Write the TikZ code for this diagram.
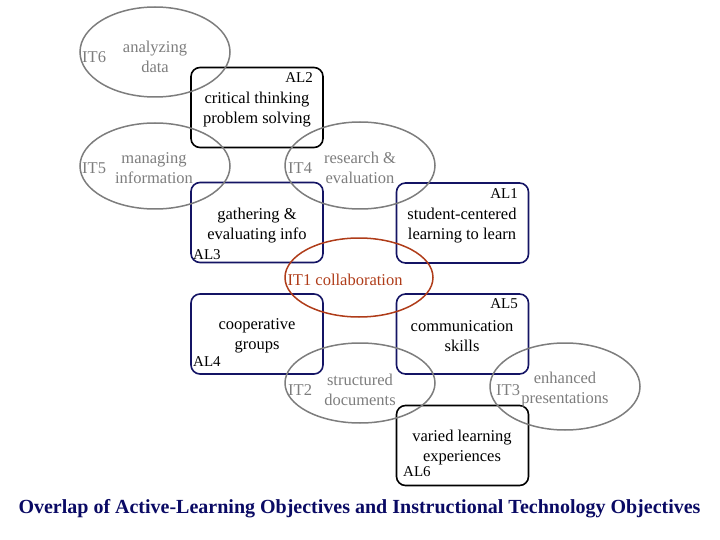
\documentclass[tikz,border=0pt]{standalone}
\usepackage{fontspec}
\setmainfont{Liberation Serif}
\definecolor{navyb}{RGB}{20,20,100}
\definecolor{ellg}{RGB}{125,125,125}
\definecolor{txtg}{RGB}{125,125,125}
\definecolor{itred}{RGB}{175,60,25}
\definecolor{capblue}{RGB}{10,10,100}
\begin{document}
\begin{tikzpicture}[x=1pt,y=-1pt,
  box/.style={draw, line width=1.6pt, rounded corners=9pt, minimum width=132pt, minimum height=80pt, inner sep=0pt},
  bt/.style={font=\fontsize{16.5}{20}\selectfont, align=center, inner sep=0pt},
  et/.style={font=\fontsize{16.5}{20}\selectfont, align=center, inner sep=0pt, text=txtg},
  lab/.style={font=\fontsize{15}{16}\selectfont, inner sep=0pt}]
\useasboundingbox (0,0) rectangle (720,540);
% boxes
\node[box, draw=black] (al2) at (257,107.5) {};
\node[box, draw=navyb] (al3) at (257,222.5) {};
\node[box, draw=navyb] (al1) at (462.5,223) {};
\node[box, draw=navyb] (al4) at (257,334) {};
\node[box, draw=navyb] (al5) at (462.5,334) {};
\node[box, draw=black] (al6) at (462.5,445.5) {};
% box texts
\node[bt] (t2) at (257,109.5) {critical thinking\\problem solving};
\node[lab, anchor=east] (l2) at (313,78) {AL2};
\node[bt] (t3) at (257,225.5) {gathering \&\\evaluating info};
\node[lab, anchor=west] (l3) at (193,255) {AL3};
\node[bt] (t1) at (462,225.5) {student-centered\\learning to learn};
\node[lab, anchor=east] (l1) at (518,194) {AL1};
\node[bt] (t4) at (257,336) {cooperative\\groups};
\node[lab, anchor=west] (l4) at (193,362) {AL4};
\node[bt] (t5) at (462,336) {communication\\skills};
\node[lab, anchor=east] (l5) at (518,304) {AL5};
\node[bt] (t6) at (462,447.5) {varied learning\\experiences};
\node[lab, anchor=west] (l6) at (403,472) {AL6};
% ellipses
\draw[draw=ellg, line width=1.5pt] (155,52) ellipse [x radius=75, y radius=45];
\draw[draw=ellg, line width=1.5pt] (155,166) ellipse [x radius=75, y radius=43];
\draw[draw=ellg, line width=1.5pt] (360,165.5) ellipse [x radius=75, y radius=43.5];
\draw[draw=itred, line width=1.5pt] (359,277.5) ellipse [x radius=74, y radius=39.5];
\draw[draw=ellg, line width=1.5pt] (360,383) ellipse [x radius=75, y radius=40];
\draw[draw=ellg, line width=1.5pt] (565,386.5) ellipse [x radius=75, y radius=43.5];
% ellipse texts
\node[et] (e6) at (155,57) {analyzing\\data};
\node[et, anchor=west] (i6) at (82,57) {IT6};
\node[et] (e5) at (154,168) {managing\\information};
\node[et, anchor=west] (i5) at (82,168) {IT5};
\node[et] (e4) at (360,168) {research \&\\evaluation};
\node[et, anchor=west] (i4) at (288,168) {IT4};
\node[et, text=itred] (e1) at (345,279.5) {IT1 collaboration};
\node[et] (e2) at (360,390) {structured\\documents};
\node[et, anchor=west] (i2) at (288,390) {IT2};
\node[et] (e3) at (565,390) {enhanced\\presentations};
\node[et, anchor=west] (i3) at (496,390) {IT3};
% caption
\node[font=\fontsize{20}{24}\selectfont\bfseries, text=capblue, inner sep=0pt] (cap) at (359.5,509) {Overlap of Active-Learning Objectives and Instructional Technology Objectives};
\end{tikzpicture}
\end{document}
